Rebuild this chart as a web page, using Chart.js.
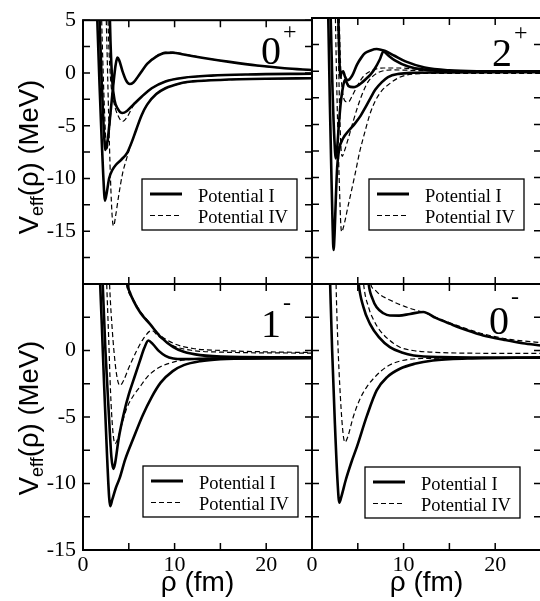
<!DOCTYPE html>
<html>
<head>
<meta charset="utf-8">
<script src="https://cdn.jsdelivr.net/npm/chart.js@4.4.1/dist/chart.umd.min.js"></script>
<style>
  html, body { margin: 0; padding: 0; background: #fff; overflow: hidden; }
  #wrap { position: relative; width: 540px; height: 601px; overflow: hidden; background: #fff; }
  #wrap canvas { position: absolute; left: 0; top: 0; }
</style>
</head>
<body>
<div id="wrap">
  <canvas id="p0plus" width="560" height="601"></canvas>
  <canvas id="p2plus" width="560" height="601"></canvas>
  <canvas id="p1minus" width="560" height="601"></canvas>
  <canvas id="p0minus" width="560" height="601"></canvas>
</div>
<script>
// tick labels
const xTickLabels = [0, 10, 20];
const yTickLabelsTop = [5, 0, -5, -10, -15];
const yTickLabelsBottom = [0, -5, -10, -15];
const legendLabels = ['Potential I', 'Potential IV'];

// [rho (fm), V_eff (MeV)]
// 0+ panel
const v0p_I1 = [[1.45,8],[1.6,4],[1.8,-1],[2.0,-5.5],[2.2,-9.5],[2.4,-12.1],[2.6,-11.3],[2.85,-10.0],[3.2,-9.2],[3.6,-8.7],[4.2,-8.2],[4.8,-7.6],[5.3,-6.6],[5.8,-5.4],[6.4,-4.0],[7,-3.0],[8,-2.0],[9,-1.45],[10,-1.15],[11,-0.9],[12,-0.8],[15,-0.66],[20,-0.55],[25,-0.5]];
const v0p_I2 = [[1.7,8],[1.85,4],[2.05,-1],[2.25,-5],[2.45,-7.3],[2.7,-6.3],[3.0,-3.8],[3.3,-1.2],[3.55,0.7],[3.75,1.45],[3.95,1.2],[4.3,0.2],[4.7,-0.7],[5.1,-1.05],[5.5,-0.9],[6.2,-0.1],[7,0.85],[8,1.55],[9,1.9],[9.8,1.92],[11,1.75],[13,1.45],[16,1.05],[19,0.7],[22,0.45],[25,0.28]];
const v0p_I3 = [[2.85,8],[3.0,3],[3.2,-0.8],[3.45,-2.6],[3.8,-3.4],[4.3,-3.8],[4.8,-3.6],[5.5,-3.0],[6.4,-2.25],[7.5,-1.45],[9,-0.8],[11,-0.45],[14,-0.25],[18,-0.14],[25,-0.07]];
const v0p_IV1 = [[2.45,8],[2.6,3],[2.8,-4],[3.0,-10],[3.2,-13.8],[3.35,-14.5],[3.55,-13.6],[3.9,-11.6],[4.3,-9.6],[4.8,-8.0],[5.3,-6.6],[5.8,-5.4],[6.4,-4.0],[7,-3.0],[8,-2.0],[9,-1.45],[10,-1.15],[12,-0.8],[15,-0.66],[20,-0.55],[25,-0.5]];
const v0p_IV2 = [[2.65,8],[2.8,3],[3.05,-1],[3.4,-2.9],[3.8,-4.0],[4.3,-4.6],[4.8,-4.2],[5.5,-3.1],[6.4,-2.25],[7.5,-1.45],[9,-0.8],[11,-0.45],[14,-0.25],[18,-0.14],[25,-0.07]];
const v0p_IV3 = [[1.95,8],[2.1,3],[2.3,-2.5],[2.5,-6.5],[2.62,-7.2],[2.8,-6.2],[3.05,-3.6],[3.3,-1.2],[3.55,0.7],[3.75,1.45],[3.95,1.2],[4.3,0.2],[4.7,-0.7],[5.1,-1.05],[5.5,-0.9],[6.2,-0.1],[7,0.85],[8,1.6],[9,1.95],[9.8,1.97],[11,1.8],[13,1.45],[16,1.05],[19,0.7],[22,0.45],[25,0.28]];

// 2+ panel
const v2p_I1 = [[1.7,8],[1.8,4],[1.95,-3],[2.1,-9],[2.25,-14.5],[2.35,-16.8],[2.47,-15.2],[2.6,-12],[2.75,-9],[2.95,-7.4],[3.4,-6.3],[4.0,-5.6],[4.7,-4.9],[5.3,-4.2],[5.8,-3.45],[6.4,-2.5],[6.9,-1.75],[7.6,-1.05],[8.3,-0.55],[9.5,-0.25],[11,-0.15],[14,-0.12],[25,-0.1]];
const v2p_I2 = [[1.95,8],[2.07,4],[2.25,-2],[2.45,-6.5],[2.6,-8.2],[2.75,-7.2],[2.95,-4.8],[3.16,-2.8],[3.4,-1.4],[3.6,-0.8],[3.8,-1.1],[4.0,-1.4],[4.5,-1.5],[4.9,-1.4],[5.4,-1.1],[5.8,-0.8],[6.4,-0.3],[6.9,0.3],[7.4,1.1],[7.8,1.85],[8.3,1.5],[9.0,1.05],[10.5,0.45],[12.3,0.15],[15,0.0],[25,-0.05]];
const v2p_I3 = [[2.8,8],[2.9,4],[3.0,1],[3.08,-0.6],[3.2,-0.2],[3.4,0],[3.6,-0.5],[3.85,-0.85],[4.1,-0.75],[4.4,-0.4],[4.9,0.6],[5.4,1.3],[5.8,1.7],[6.4,1.95],[7.06,2.08],[7.6,2.0],[8.0,1.9],[9.0,1.45],[10.2,0.92],[12.3,0.35],[15,0.08],[18,0.0],[25,-0.02]];
const v2p_IV1 = [[2.5,8],[2.6,3],[2.8,-5],[3.0,-11],[3.15,-14.5],[3.25,-15.1],[3.45,-14.6],[3.97,-12.55],[4.69,-9.73],[5.2,-7.6],[5.79,-5.66],[6.3,-4.1],[6.88,-2.84],[7.6,-1.85],[8.33,-1.27],[9.5,-0.6],[11.2,-0.25],[14,-0.2],[25,-0.2]];
const v2p_IV2 = [[2.7,8],[2.85,3],[3.0,-3],[3.15,-7],[3.3,-8.0],[3.5,-7.6],[3.97,-6.3],[4.5,-4.7],[5.06,-3.15],[5.6,-1.9],[6.15,-0.96],[6.9,-0.3],[7.6,0.0],[9,0.12],[12,0.05],[25,0.0]];
const v2p_IV3 = [[2.9,8],[3.0,4],[3.15,0],[3.35,-2.0],[3.6,-2.8],[3.95,-2.9],[4.4,-2.3],[5.0,-1.3],[5.6,-0.5],[6.5,0.05],[7.8,0.3],[9.5,0.3],[12,0.12],[16,0.02],[25,0.0]];

// 1- panel
const v1m_I1 = [[1.72,8],[1.86,5.25],[2.05,2],[2.3,-2.5],[2.6,-7.5],[2.85,-11],[2.97,-11.7],[3.2,-11.2],[3.6,-10.3],[4.0,-9.6],[4.6,-8.2],[5.5,-6.6],[6.5,-4.9],[7.5,-3.5],[8.5,-2.4],[9.8,-1.55],[11,-1.1],[12.8,-0.8],[15,-0.65],[20,-0.58],[25,-0.55]];
const v1m_I2 = [[2.0,8],[2.15,5],[2.45,0],[2.8,-4.5],[3.1,-8],[3.31,-8.9],[3.5,-8.5],[3.9,-6.6],[4.5,-4.6],[5.0,-3.3],[5.5,-2.25],[6.2,-0.8],[6.7,0.2],[7.13,0.75],[7.6,0.5],[8.3,-0.05],[9.0,-0.4],[9.86,-0.6],[11,-0.65],[14,-0.6],[25,-0.58]];
const v1m_I3 = [[4.5,8],[4.77,5.25],[5.1,4.4],[5.5,3.75],[6.3,2.8],[7.3,2.0],[8.5,1.0],[9.86,0.25],[11,-0.1],[12.8,-0.35],[16,-0.48],[25,-0.52]];
const v1m_IV1 = [[2.45,8],[2.59,5],[2.8,1],[3.0,-3],[3.25,-6],[3.5,-7.0],[3.8,-6.6],[4.3,-5.4],[4.8,-4.3],[5.5,-3.4],[6.2,-2.75],[7.0,-2.0],[8.0,-1.4],[9.86,-0.87],[12,-0.65],[15,-0.58],[25,-0.55]];
const v1m_IV2 = [[2.75,8],[2.9,5],[3.2,1.5],[3.55,-1.2],[3.8,-2.3],[4.04,-2.63],[4.4,-2.3],[5.0,-1.3],[5.8,-0.1],[6.6,0.9],[7.5,1.5],[8.2,1.1],[9.86,0.35],[12,0.0],[15,-0.12],[25,-0.2]];
const v1m_IV3 = [[4.4,8],[4.7,5.3],[5.5,3.85],[6.3,2.9],[7.0,2.3],[7.6,1.75],[8.5,1.1],[10,0.5],[12,0.15],[15,0.0],[20,-0.1],[25,-0.15]];

// 0- panel
const v0m_I1 = [[1.85,8],[1.97,5.25],[2.2,0],[2.5,-5.5],[2.8,-10],[2.98,-11.45],[3.2,-11.0],[3.7,-9.7],[4.3,-8.4],[4.9,-7.25],[6.0,-4.9],[7.06,-3.0],[8.2,-2.0],[9.6,-1.37],[11.2,-1.0],[13.2,-0.75],[17,-0.6],[25,-0.52]];
const v0m_I2 = [[4.8,8],[5.06,5.25],[5.6,3.3],[6.33,2.0],[7.3,1.0],[8.5,0.25],[9.8,-0.15],[11.1,-0.38],[14,-0.5],[25,-0.55]];
const v0m_I3 = [[5.9,8],[6.15,5.25],[6.6,3.9],[7.06,3.25],[7.8,2.8],[8.5,2.63],[9.5,2.62],[10.7,2.75],[12.15,2.9],[13.5,2.45],[15.1,2.0],[17,1.5],[18.7,1.13],[21,0.8],[23,0.55],[25,0.38]];
const v0m_IV1 = [[2.55,8],[2.62,5.25],[2.8,1],[3.1,-3.5],[3.4,-6.3],[3.6,-6.9],[3.9,-6.5],[4.5,-5.0],[5.2,-3.7],[5.97,-2.75],[7.0,-1.9],[8.2,-1.2],[9.6,-0.8],[12,-0.6],[25,-0.55]];
const v0m_IV2 = [[5.35,8],[5.6,5.25],[6.2,3.2],[6.8,2.2],[7.42,1.5],[8.5,0.75],[9.6,0.25],[11,0.0],[13.2,-0.13],[17,-0.2],[25,-0.22]];
const v0m_IV3 = [[6.1,8],[6.33,5.25],[6.8,4.6],[7.42,4.2],[8.5,3.8],[9.6,3.45],[11,3.1],[12.15,2.88],[13.5,2.5],[15.1,2.07],[17,1.6],[18.7,1.25],[21,0.9],[23,0.72],[25,0.6]];

const CW = 560, CH = 601;
const serif = '"Liberation Serif", "Times New Roman", serif';
const sans = '"Liberation Sans", Arial, sans-serif';

function curve(arr, dashed) {
    return {
        label: dashed ? legendLabels[1] : legendLabels[0],
        data: arr.map(([x, y]) => ({ x, y })),
        borderColor: '#000',
        borderWidth: dashed ? 1.2 : 2.6,
        borderDash: dashed ? [5, 3] : [],
        pointRadius: 0,
        fill: false,
        cubicInterpolationMode: 'monotone'
    };
}

// frame, inward ticks, panel label, legend box and y title
const decor = {
    id: 'decor',
    afterDatasetsDraw(chart, args, o) {
        const { ctx, chartArea: a, scales: { x, y } } = chart;
        ctx.save();
        ctx.strokeStyle = '#000';
        ctx.lineWidth = 1.5;
        ctx.beginPath();
        x.ticks.forEach(t => {
            const px = x.getPixelForValue(t.value);
            ctx.moveTo(px, a.bottom); ctx.lineTo(px, a.bottom - 7);
            ctx.moveTo(px, a.top); ctx.lineTo(px, a.top + 7);
        });
        y.ticks.forEach(t => {
            const py = y.getPixelForValue(t.value);
            ctx.moveTo(a.left, py); ctx.lineTo(a.left + 7, py);
            ctx.moveTo(a.right, py); ctx.lineTo(a.right - 7, py);
        });
        ctx.stroke();
        ctx.lineWidth = 2;
        ctx.strokeRect(a.left, a.top, a.right - a.left, a.bottom - a.top);

        // panel label, e.g. 0+
        ctx.fillStyle = '#000';
        ctx.textBaseline = 'alphabetic';
        ctx.font = '40px ' + serif;
        ctx.fillText(o.label, o.labelX, o.labelY);
        const w = ctx.measureText(o.label).width;
        ctx.font = '24px ' + serif;
        ctx.fillText(o.sup, o.labelX + w + 2, o.labelY - o.supDy);

        // legend
        const lx = o.legendX, ly = o.legendY;
        ctx.fillStyle = '#fff';
        ctx.fillRect(lx, ly, 155, 51);
        ctx.lineWidth = 1.3;
        ctx.strokeRect(lx, ly, 155, 51);
        ctx.fillStyle = '#000';
        ctx.font = '18.5px ' + serif;
        [chart.data.datasets[0], chart.data.datasets[3]].forEach((ds, i) => {
            const ry = ly + 15 + i * 21.5;
            ctx.lineWidth = i === 0 ? 3 : 1.2;
            ctx.setLineDash(ds.borderDash);
            ctx.beginPath();
            ctx.moveTo(lx + 8, ry); ctx.lineTo(lx + 40, ry);
            ctx.stroke();
            ctx.setLineDash([]);
            ctx.fillText(ds.label, lx + 56, ry + 7.5);
        });

        // rotated y title with subscript
        if (o.yTitleY) {
            ctx.translate(38, o.yTitleY);
            ctx.rotate(-Math.PI / 2);
            const main = '27.5px ' + sans, sub = '18px ' + sans;
            ctx.font = main;
            const wV = ctx.measureText('V').width;
            const wRest = ctx.measureText('(\u03c1) (MeV)').width;
            ctx.font = sub;
            const wSub = ctx.measureText('eff').width;
            const x0 = -(wV + wSub + wRest) / 2;
            ctx.font = main; ctx.fillText('V', x0, 0);
            ctx.font = sub; ctx.fillText('eff', x0 + wV, 5);
            ctx.font = main; ctx.fillText('(\u03c1) (MeV)', x0 + wV + wSub, 0);
        }
        ctx.restore();
    }
};

function makePanel(id, cfg) {
    const area = cfg.area;
    const yLabels = cfg.yMin === -20 ? yTickLabelsTop : yTickLabelsBottom;
    return new Chart(document.getElementById(id), {
        type: 'line',
        data: {
            datasets: [
                curve(cfg.solid[0], false), curve(cfg.solid[1], false), curve(cfg.solid[2], false),
                curve(cfg.dashed[0], true), curve(cfg.dashed[1], true), curve(cfg.dashed[2], true)
            ]
        },
        options: {
            responsive: false,
            animation: false,
            events: [],
            layout: {
                padding: {
                    left: cfg.showY ? 0 : area.left,
                    top: area.top,
                    right: CW - area.right,
                    bottom: cfg.showX ? 0 : CH - area.bottom
                }
            },
            plugins: {
                legend: { display: false },
                tooltip: { enabled: false },
                decor: cfg.decor
            },
            scales: {
                x: {
                    type: 'linear',
                    min: 0,
                    max: 25,
                    grid: { display: false, drawTicks: false },
                    border: { display: false },
                    ticks: {
                        display: cfg.showX,
                        stepSize: 5,
                        autoSkip: false,
                        maxRotation: 0,
                        padding: 2,
                        color: '#000',
                        font: { family: serif, size: 22 },
                        callback: v => xTickLabels.includes(v) ? String(v) : ''
                    },
                    title: {
                        display: cfg.showX,
                        text: '\u03c1 (fm)',
                        color: '#000',
                        font: { family: sans, size: 28 },
                        padding: { top: 0, bottom: 1.2 }
                    },
                    afterFit: s => { s.height = cfg.showX ? CH - area.bottom : 0; }
                },
                y: {
                    type: 'linear',
                    min: cfg.yMin,
                    max: 5,
                    grid: { display: false, drawTicks: false },
                    border: { display: false },
                    ticks: {
                        display: cfg.showY,
                        stepSize: 2.5,
                        autoSkip: false,
                        padding: 7,
                        color: '#000',
                        font: { family: serif, size: 22 },
                        callback: v => yLabels.includes(v) ? String(v) : ''
                    },
                    afterFit: s => { s.width = cfg.showY ? area.left : 0; }
                }
            }
        },
        plugins: [decor]
    });
}

makePanel('p0plus', {
    area: { left: 83, top: 18, right: 312, bottom: 284 }, yMin: -20, showY: true, showX: false,
    solid: [v0p_I1, v0p_I2, v0p_I3], dashed: [v0p_IV1, v0p_IV2, v0p_IV3],
    decor: { label: '0', sup: '+', labelX: 261, labelY: 64, supDy: 24.7, legendX: 142, legendY: 179, yTitleY: 157 }
});
makePanel('p2plus', {
    area: { left: 312, top: 18, right: 541, bottom: 284 }, yMin: -20, showY: false, showX: false,
    solid: [v2p_I1, v2p_I2, v2p_I3], dashed: [v2p_IV1, v2p_IV2, v2p_IV3],
    decor: { label: '2', sup: '+', labelX: 492, labelY: 66, supDy: 25.7, legendX: 369, legendY: 179 }
});
makePanel('p1minus', {
    area: { left: 83, top: 284, right: 312, bottom: 550 }, yMin: -15, showY: true, showX: true,
    solid: [v1m_I1, v1m_I2, v1m_I3], dashed: [v1m_IV1, v1m_IV2, v1m_IV3],
    decor: { label: '1', sup: '-', labelX: 261, labelY: 337, supDy: 26.6, legendX: 143, legendY: 466, yTitleY: 418 }
});
makePanel('p0minus', {
    area: { left: 312, top: 284, right: 541, bottom: 550 }, yMin: -15, showY: false, showX: true,
    solid: [v0m_I1, v0m_I2, v0m_I3], dashed: [v0m_IV1, v0m_IV2, v0m_IV3],
    decor: { label: '0', sup: '-', labelX: 489, labelY: 334, supDy: 29.6, legendX: 365, legendY: 467 }
});
</script>
</body>
</html>
